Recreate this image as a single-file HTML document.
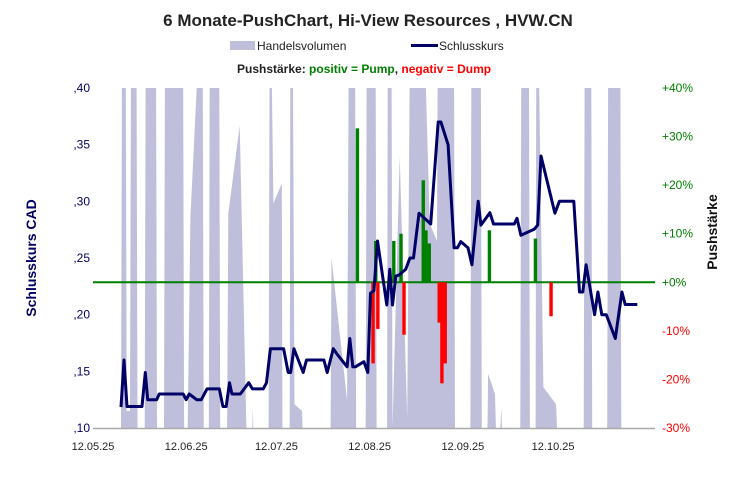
<!DOCTYPE html>
<html><head><meta charset="utf-8"><style>
body{margin:0;background:#fff;}
svg{display:block;font-family:"Liberation Sans",sans-serif;}
</style></head><body>
<svg id="c" width="734" height="480" viewBox="0 0 734 480">
<text x="368" y="26" text-anchor="middle" font-size="17" font-weight="bold" fill="#222">6 Monate-PushChart,  Hi-View Resources , HVW.CN</text>
<g>
<rect x="230" y="41" width="25" height="9" fill="#bfbfdb"/>
<text x="257" y="50" font-size="12" fill="#222">Handelsvolumen</text>
<line x1="411" y1="45.5" x2="438" y2="45.5" stroke="#000066" stroke-width="3"/>
<text x="439" y="50" font-size="12" fill="#222">Schlusskurs</text>
<text x="237" y="73" font-size="12" font-weight="bold"><tspan fill="#222">Pushstärke:  </tspan><tspan fill="#008000">positiv = Pump</tspan><tspan fill="#222">,  </tspan><tspan fill="#ff0000">negativ = Dump</tspan></text>
</g>
<text transform="translate(36,258) rotate(-90)" text-anchor="middle" font-size="14" font-weight="bold" fill="#000066">Schlusskurs CAD</text>
<text transform="translate(717,232) rotate(-90)" text-anchor="middle" font-size="14" font-weight="bold" fill="#111">Pushstärke</text>
<g id="vol"></g><g id="axes"></g><g id="bars"></g><g id="line"></g>
</svg>
<script>
const priceDays=[9.3,10.3,11.3,16.3,17.4,18.2,21.2,22,30,31,32,34.5,36,37.9,42,43.2,44.3,45.4,46.2,49,51.8,53,56.6,57.7,59,63.4,64.9,65.7,66.8,69.9,71,76.8,77.9,79.9,81.2,84.5,85.4,86.4,87.3,90.1,91.4,92.3,93.4,94.6,97.7,98.7,99.6,100.7,101.8,104,105.4,106.6,108.4,112.3,114.8,115.7,118.1,120.1,121.2,122.3,124.7,126,128.1,129,132,133.2,140.1,141,142.3,146.8,147.9,149,153.6,155.1,159.9,161.8,162.9,164,166.8,167.9,169.2,170.7,173.7,175.9,177,181];
const prices=[.1185,.160,.119,.119,.149,.125,.125,.130,.130,.125,.130,.125,.125,.1345,.1345,.119,.119,.140,.130,.130,.140,.1345,.1345,.140,.170,.170,.149,.149,.170,.149,.160,.160,.149,.170,.165,.154,.179,.154,.154,.1585,.149,.219,.221,.265,.2085,.240,.2085,.234,.235,.240,.250,.250,.2895,.280,.370,.370,.350,.259,.259,.2645,.259,.244,.300,.279,.290,.280,.280,.285,.270,.2755,.279,.340,.2895,.300,.300,.220,.220,.244,.200,.220,.200,.200,.179,.220,.209,.209];
const pushDays=[87.9,93.1,94,94.7,100,102.4,103.4,109.8,110.7,111.8,115.1,116,117.1,131.8,147.1,152.3];
const pushValues=[31.7,-16.7,8.5,-9.6,8.5,10,-10.8,21,10.7,8,-8.3,-20.8,-16.7,10.7,9,-7];
const volDays=[9.3,9.6,10.9,11.2,12.3,12.6,14.5,14.8,17.2,17.5,21,21.3,23.6,23.9,30,30.3,31.5,32.4,34.5,36.5,36.8,38.5,38.8,42,42.3,44.6,45,48.8,51,53,53.1,53.3,58.4,58.7,59.5,60,62.8,63,65.4,65.6,66.5,67,69.5,69.7,79,79.3,84.5,85,87.2,87.5,90.7,91,94,94.3,97.8,98,99.3,99.6,102,104.5,105.3,106.8,110.7,112,114.4,114.6,117.9,118.1,120.1,120.4,125.5,125.8,129,129.3,131.2,131.4,133.7,134,135.5,135.8,136,136.3,142.1,142.4,145,145.3,147.2,147.4,148.4,149.8,154,154.3,163.2,163.5,165.7,166,171,171.3,175.4,175.7];
const volFrac=[0,1,1,.05,.05,1,1,0,0,1,1,0,0,1,1,0,0,.62,1,1,0,0,1,1,0,0,.63,.89,0,0,.06,0,0,1,1,.66,.72,0,0,1,1,.07,.05,0,0,.5,.08,1,1,0,0,1,1,0,0,1,1,0,.8,.03,1,1,1,.6,.55,1,1,1,1,0,0,1,1,0,0,.16,.1,0,0,.06,0,0,0,1,1,0,0,1,1,.12,.07,0,0,1,1,0,0,1,1,0];
const leftTicks=[",10",",15",",20",",25",",30",",35",",40"];
const leftTickVals=[.10,.15,.20,.25,.30,.35,.40];
const rightTickVals=[-30,-20,-10,0,10,20,30,40];
const xTickLabels=["12.05.25","12.06.25","12.07.25","12.08.25","12.09.25","12.10.25"];
const xTickDays=[0,31,61,92,123,153];

const NS="http://www.w3.org/2000/svg";
const X0=93,X1=655,YT=88,YB=428;
const xs=d=>X0+d*3.007;
const yP=p=>YB-(p-0.10)/0.30*(YB-YT);
const yR=v=>YB-(v+30)/70*(YB-YT);
const yV=f=>YB-f*(YB-YT);
function mk(tag,attrs,parent){const e=document.createElementNS(NS,tag);for(const k in attrs)e.setAttribute(k,attrs[k]);parent.appendChild(e);return e;}

const vol=document.getElementById('vol');
let dv="M"+xs(volDays[0])+","+YB;
volDays.forEach((d,i)=>{dv+=" L"+xs(d).toFixed(1)+","+yV(volFrac[i]).toFixed(1);});
dv+=" L"+xs(volDays[volDays.length-1])+","+YB+" Z";
const va=mk('path',{d:dv,fill:"#bfbfdb"},vol);



const ax=document.getElementById('axes');
const xl=mk('line',{x1:X0,y1:YB+0.5,x2:X1,y2:YB+0.5,stroke:"#aaa","stroke-width":1.5},ax);


leftTickVals.forEach((v,i)=>{const t=mk('text',{x:90,y:yP(v)+4,"text-anchor":"end","font-size":12,fill:"#000066"},ax);t.textContent=leftTicks[i];

});
rightTickVals.forEach(v=>{const t=mk('text',{x:662,y:yR(v)+4,"font-size":12,fill:v<0?"#ff0000":"#008000"},ax);t.textContent=(v>0?"+":v<0?"-":"+")+Math.abs(v)+"%";

});
xTickDays.forEach((d,i)=>{const t=mk('text',{x:xs(d),y:450,"text-anchor":"middle","font-size":11,fill:"#222"},ax);t.textContent=xTickLabels[i];

});

const bars=document.getElementById('bars');
const zl=mk('line',{x1:X0,y1:yR(0),x2:X1,y2:yR(0),stroke:"#008000","stroke-width":2},bars);


pushDays.forEach((d,i)=>{const v=pushValues[i];const y0=yR(0),y1=yR(v);
const r=mk('rect',{x:xs(d)-1.6,y:Math.min(y0,y1),width:3.4,height:Math.abs(y1-y0),fill:v>=0?"#008000":"#ff0000"},bars);

});

const ln=document.getElementById('line');
const pl=mk('polyline',{points:priceDays.map((d,i)=>xs(d).toFixed(1)+","+yP(prices[i]).toFixed(1)).join(" "),fill:"none",stroke:"#000066","stroke-width":3,"stroke-linejoin":"round"},ln);


</script>
</body></html>
